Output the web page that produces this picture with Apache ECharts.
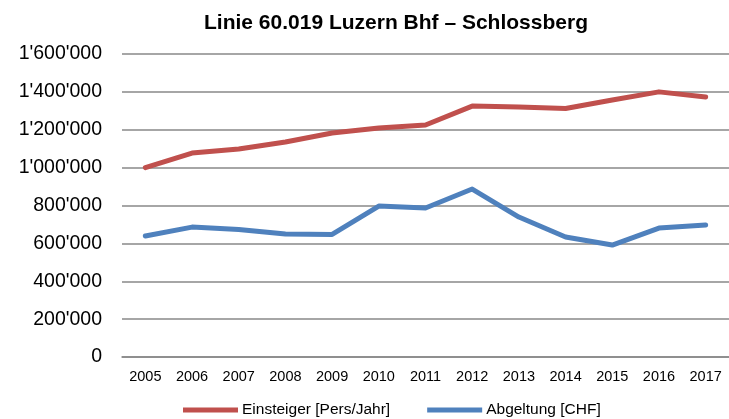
<!DOCTYPE html>
<html>
<head>
<meta charset="utf-8">
<script src="https://cdn.jsdelivr.net/npm/echarts@6/dist/echarts.min.js"></script>
<style>
  html, body { margin: 0; padding: 0; background: #fff; }
  #chart { width: 729px; height: 419px; }
</style>
</head>
<body>
<div id="chart"></div>
<script>
var years = ['2005', '2006', '2007', '2008', '2009', '2010', '2011', '2012', '2013', '2014', '2015', '2016', '2017'];
var einsteiger = [1000000, 1077000, 1098000, 1135000, 1183000, 1209000, 1225000, 1325000, 1320000, 1312000, 1357000, 1400000, 1373000];
var abgeltung = [639000, 686000, 673000, 650000, 647000, 797000, 787000, 887000, 739000, 634000, 591000, 681000, 697000];

// Tausendertrennzeichen mit Apostroph
function fmt(v) {
    return String(v).replace(/\B(?=(\d{3})+(?!\d))/g, "'");
}

var myChart = echarts.init(document.getElementById('chart'));
var font = 'Liberation Sans, Arial, sans-serif';
var option = {
    animation: false,
    title: {
        text: 'Linie 60.019 Luzern Bhf \u2013 Schlossberg',
        left: 391,
        textAlign: 'center',
        top: 8,
        textStyle: { fontFamily: font, fontSize: 21, fontWeight: 'bold', color: '#000' }
    },
    legend: {
        top: 397,
        left: 178,
        itemWidth: 55,
        itemHeight: 5,
        itemGap: 37,
        icon: 'rect',
        textStyle: { fontFamily: font, fontSize: 15.5, color: '#000', padding: [0, 0, 0, -1] },
        data: ['Einsteiger [Pers/Jahr]', 'Abgeltung [CHF]']
    },
    grid: { left: 122, top: 54, width: 612, height: 303 },
    xAxis: {
        type: 'category',
        data: years,
        axisTick: { show: false },
        axisLine: { lineStyle: { color: '#888', width: 1.5 } },
        axisLabel: { fontFamily: font, fontSize: 14.5, color: '#000', margin: 12 }
    },
    yAxis: {
        type: 'value',
        min: 0,
        max: 1600000,
        interval: 200000,
        axisLine: { show: false },
        axisTick: { show: false },
        splitLine: { lineStyle: { color: '#888', width: 1.5 } },
        axisLabel: { fontFamily: font, fontSize: 19.5, color: '#000', margin: 20, formatter: fmt }
    },
    series: [
        {
            name: 'Einsteiger [Pers/Jahr]',
            type: 'line',
            data: einsteiger,
            symbol: 'none',
            color: '#C0504D',
            lineStyle: { width: 5, cap: 'round', join: 'round' }
        },
        {
            name: 'Abgeltung [CHF]',
            type: 'line',
            data: abgeltung,
            symbol: 'none',
            color: '#4F81BD',
            lineStyle: { width: 5, cap: 'round', join: 'round' }
        }
    ]
};
myChart.setOption(option);
</script>
</body>
</html>
